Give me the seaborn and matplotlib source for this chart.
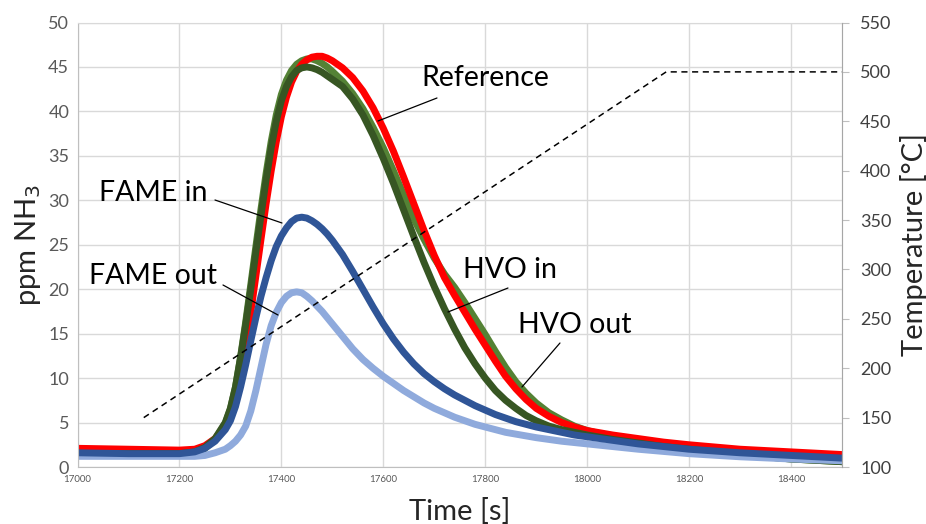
import matplotlib
matplotlib.use("Agg")
import matplotlib.pyplot as plt
import seaborn as sns
import pandas as pd

# ---------------- data ----------------
time_s = [17000, 17100, 17200, 17230, 17250, 17270, 17290, 17300, 17310, 17320,
          17330, 17340, 17350, 17360, 17370, 17380, 17390, 17400, 17410, 17420,
          17430, 17440, 17450, 17460, 17470, 17480, 17490, 17500, 17520, 17540,
          17560, 17580, 17600, 17620, 17640, 17660, 17680, 17700, 17720, 17740,
          17760, 17780, 17800, 17820, 17840, 17860, 17880, 17900, 17925, 17950,
          17975, 18000, 18050, 18100, 18150, 18200, 18300, 18400, 18500]

reference = [2.1, 2.0, 1.9, 2.0, 2.4, 3.2, 4.6, 5.7, 7.6, 10.3,
             13.6, 17.4, 21.5, 25.6, 29.6, 33.3, 36.6, 39.4, 41.6, 43.3,
             44.5, 45.3, 45.8, 46.1, 46.2, 46.2, 46.0, 45.7, 44.9, 43.8,
             42.3, 40.4, 38.1, 35.5, 32.6, 29.6, 26.6, 23.8, 21.3, 19.3,
             17.4, 15.5, 13.7, 11.9, 10.2, 8.8, 7.6, 6.6, 5.7, 5.0,
             4.5, 4.1, 3.6, 3.2, 2.8, 2.5, 2.0, 1.7, 1.4]

hvo_in = [1.5, 1.5, 1.5, 1.7, 2.2, 3.2, 5.0, 6.6, 9.0, 12.3,
          16.0, 20.0, 24.2, 28.3, 32.3, 35.9, 38.9, 41.2, 42.8, 43.9,
          44.6, 44.9, 45.0, 44.9, 44.7, 44.4, 44.0, 43.6, 42.8, 41.4,
          39.6, 37.3, 34.7, 31.9, 28.9, 25.9, 23.0, 20.3, 17.8, 15.5,
          13.4, 11.6, 10.0, 8.6, 7.5, 6.6, 5.8, 5.2, 4.6, 4.2,
          3.9, 3.6, 3.1, 2.7, 2.3, 2.0, 1.4, 0.9, 0.6]

hvo_out = [1.4, 1.4, 1.4, 1.6, 2.1, 3.1, 4.9, 6.5, 9.0, 12.4,
           16.3, 20.5, 24.8, 29.0, 33.0, 36.6, 39.6, 41.9, 43.5, 44.6,
           45.3, 45.7, 45.9, 45.9, 45.7, 45.4, 45.0, 44.5, 43.4, 42.0,
           40.3, 38.2, 35.9, 33.3, 30.6, 27.9, 25.6, 23.5, 21.7, 20.2,
           18.5, 16.7, 14.9, 13.0, 11.2, 9.6, 8.3, 7.2, 6.1, 5.3,
           4.6, 4.1, 3.4, 2.8, 2.4, 2.0, 1.4, 0.9, 0.6]

fame_in = [1.6, 1.5, 1.5, 1.7, 2.1, 2.9, 4.2, 5.2, 6.8, 9.0,
           11.5, 14.2, 16.8, 19.2, 21.3, 23.2, 24.8, 26.0, 26.9, 27.6,
           28.0, 28.1, 28.0, 27.7, 27.3, 26.8, 26.2, 25.5, 23.9, 22.0,
           20.0, 18.0, 16.1, 14.4, 12.9, 11.6, 10.5, 9.6, 8.8, 8.1,
           7.5, 6.9, 6.4, 5.9, 5.5, 5.1, 4.8, 4.5, 4.2, 3.9,
           3.6, 3.4, 3.0, 2.6, 2.3, 2.0, 1.6, 1.3, 1.0]

fame_out = [1.2, 1.2, 1.2, 1.2, 1.3, 1.6, 2.0, 2.4, 2.9, 3.6,
            4.6, 6.3, 8.6, 11.2, 13.8, 15.9, 17.4, 18.5, 19.2, 19.6,
            19.7, 19.6, 19.2, 18.7, 18.1, 17.5, 16.8, 16.1, 14.7, 13.3,
            12.1, 11.1, 10.2, 9.4, 8.6, 7.9, 7.2, 6.6, 6.1, 5.6,
            5.2, 4.8, 4.5, 4.2, 3.9, 3.7, 3.5, 3.3, 3.1, 2.9,
            2.75, 2.6, 2.3, 2.0, 1.75, 1.5, 1.15, 0.9, 0.7]

temp_time = [17130, 18155, 18500]
temp_degC = [150, 500, 500]

x_ticks = [17000, 17200, 17400, 17600, 17800, 18000, 18200, 18400]
y_ticks = [0, 5, 10, 15, 20, 25, 30, 35, 40, 45, 50]
t_ticks = [100, 150, 200, 250, 300, 350, 400, 450, 500, 550]

# ---------------- styling ----------------
sns.set_style("white")
plt.rcParams["font.family"] = ["Lato", "DejaVu Sans"]

fig = plt.figure(figsize=(9.26, 5.24), dpi=100)
ax = fig.add_axes([77.5 / 926, 1 - 467 / 524, (842 - 77.5) / 926, (467 - 22.5) / 524])

n = len(time_s)
df = pd.DataFrame({
    "time": time_s * 5,
    "ppm": hvo_out + reference + hvo_in + fame_out + fame_in,
    "series": (["HVO out"] * n + ["Reference"] * n + ["HVO in"] * n +
               ["FAME out"] * n + ["FAME in"] * n),
})
palette = {"HVO out": "#548235", "Reference": "#FF0000", "HVO in": "#375623",
           "FAME out": "#8FAADC", "FAME in": "#2F5597"}
for name in ["HVO out", "Reference", "HVO in", "FAME out", "FAME in"]:
    sub = df[df["series"] == name]
    sns.lineplot(data=sub, x="time", y="ppm", ax=ax, color=palette[name],
                 linewidth=5, legend=False, sort=False)

ax.set_xlim(17000, 18500)
ax.set_ylim(0, 50)
ax.set_xticks(x_ticks)
ax.set_xticklabels([str(v) for v in x_ticks], fontsize=7, color="#595959")
ax.set_yticks(y_ticks)
ax.set_yticklabels([str(v) for v in y_ticks], fontsize=13, color="#595959")
ax.tick_params(axis="both", length=0, pad=6)
ax.grid(True, color="#D9D9D9", linewidth=1)
ax.set_axisbelow(True)
for s in ["left", "bottom", "top", "right"]:
    ax.spines[s].set_color("#D9D9D9")
ax.spines["left"].set_color("#BFBFBF")
ax.spines["bottom"].set_color("#BFBFBF")
ax.set_xlabel("Time [s]", fontsize=21, labelpad=10)
ax.set_ylabel("ppm NH$_3$", fontsize=21, labelpad=4)

ax2 = ax.twinx()
sns.lineplot(x=temp_time, y=temp_degC, ax=ax2, color="black", linewidth=1.1,
             linestyle=(0, (4, 3)), legend=False)
ax2.set_ylim(100, 550)
ax2.set_yticks(t_ticks)
ax2.set_yticklabels([str(v) for v in t_ticks], fontsize=13, color="#404040")
ax2.tick_params(axis="y", length=5, color="#BFBFBF", direction="out", pad=8)
ax2.set_ylabel("Temperature [°C]", fontsize=21, labelpad=6)
for s in ["left", "bottom", "top"]:
    ax2.spines[s].set_visible(False)
ax2.spines["right"].set_color("#A6A6A6")
ax2.grid(False)

# ---------------- annotations ----------------
def label(text, xy_text, xy_line_start, xy_line_end):
    ax.text(xy_text[0], xy_text[1], text, fontsize=20.5, ha="center", va="center",
            color="black")
    ax.plot([xy_line_start[0], xy_line_end[0]], [xy_line_start[1], xy_line_end[1]],
            color="black", linewidth=0.9)

def px(x, y):
    return (17000 + (x - 77.5) / 0.5097, (467 - y) / 8.89)

label("Reference", px(485, 78), px(437, 98), px(378, 121))
label("FAME in", px(153, 193), px(215, 200), px(282, 223))
label("FAME out", px(153, 276), px(223, 285), px(278, 315))
label("HVO in", px(510, 270), px(508, 288), px(448, 312))
label("HVO out", px(575, 325), px(560, 343), px(522, 387))

fig.savefig("out.png", dpi=100)
